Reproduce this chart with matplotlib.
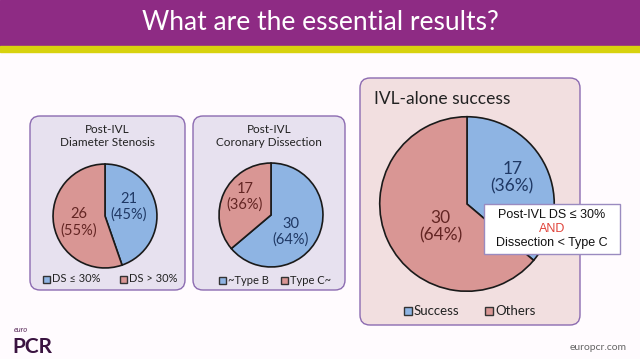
import matplotlib
matplotlib.use("Agg")
import matplotlib.pyplot as plt
from matplotlib.patches import FancyBboxPatch, Rectangle

# ---------------- data ----------------
title = "What are the essential results?"

p1_title = "Post-IVL\nDiameter Stenosis"
p1_labels = ["DS \u2264 30%", "DS > 30%"]
p1_counts = [21, 26]
p1_pcts = [45, 55]

p2_title = "Post-IVL\nCoronary Dissection"
p2_labels = ["~Type B", "Type C~"]
p2_counts = [30, 17]
p2_pcts = [64, 36]

p3_title = "IVL-alone success"
p3_labels = ["Success", "Others"]
p3_counts = [17, 30]
p3_pcts = [36, 64]

note_lines = ["Post-IVL DS \u2264 30%", "AND", "Dissection < Type C"]

# ---------------- style ----------------
W, H = 640, 359
BLUE = "#8EB4E3"
RED = "#D99694"
BLUE_TXT = "#1F3864"
RED_TXT = "#632523"
PURPLE = "#8E2B84"
FONT = ["Lato", "DejaVu Sans"]
plt.rcParams["font.family"] = FONT

fig = plt.figure(figsize=(W / 100, H / 100), dpi=100)
fig.patch.set_facecolor("#FFFBFE")
bg = fig.add_axes([0, 0, 1, 1])
bg.set_xlim(0, W)
bg.set_ylim(H, 0)
bg.axis("off")

# header
bg.add_patch(Rectangle((0, 0), W, 46, color=PURPLE, zorder=1))
bg.add_patch(Rectangle((0, 46), W, 6, color="#D8D20E", zorder=1))
bg.text(320, 23, title, color="white", fontsize=19, ha="center", va="center", zorder=2)


def panel(x0, y0, x1, y1, face):
    bg.add_patch(FancyBboxPatch((x0 + 10, y0 + 10), x1 - x0 - 20, y1 - y0 - 20,
                                boxstyle="round,pad=10", facecolor=face,
                                edgecolor="#8C6BB1", linewidth=1.0, zorder=1))


def pie_at(cx, cy, r, values, counts, pcts, label_pos, label_colors, fs):
    ax = fig.add_axes([(cx - r) / W, 1 - (cy + r) / H, 2 * r / W, 2 * r / H])
    ax.pie(values, colors=[BLUE, RED], startangle=90, counterclock=False,
           wedgeprops=dict(edgecolor="#1a1a1a", linewidth=1.2))
    ax.set_xlim(-1.02, 1.02)
    ax.set_ylim(-1.02, 1.02)
    ax.set_aspect("equal")
    for (lx, ly), c, p, col in zip(label_pos, counts, pcts, label_colors):
        ax.text(lx, ly, f"{c}\n({p}%)", ha="center", va="center", color=col,
                fontsize=fs, linespacing=1.15)
    return ax


def legend(items, y, size, fs):
    for (x, lab, col) in items:
        bg.add_patch(Rectangle((x, y - size / 2), size, size, facecolor=col,
                               edgecolor="#333333", linewidth=1.0, zorder=3))
        bg.text(x + size + 2, y, lab, ha="left", va="center", fontsize=fs, color="#222222", zorder=3)


# panel 1
panel(30, 116, 185, 290, "#E7E1EF")
bg.text(107, 136, p1_title, ha="center", va="center", fontsize=8.5, linespacing=1.2, color="#222222")
pie_at(105, 216, 53, p1_counts, p1_counts, p1_pcts, [(0.45, 0.18), (-0.5, -0.12)],
       [BLUE_TXT, RED_TXT], 10.5)
legend([(43, p1_labels[0], BLUE), (120, p1_labels[1], RED)], 279, 7, 8)

# panel 2
panel(193, 116, 345, 290, "#E7E1EF")
bg.text(269, 136, p2_title, ha="center", va="center", fontsize=8.5, linespacing=1.2, color="#222222")
pie_at(271, 215, 53, p2_counts, p2_counts, p2_pcts, [(0.38, -0.32), (-0.5, 0.35)],
       [BLUE_TXT, RED_TXT], 10.5)
legend([(219, p2_labels[0], BLUE), (281, p2_labels[1], RED)], 280, 7, 8)

# panel 3
panel(360, 78, 580, 325, "#F2DFE0")
bg.text(442, 99, p3_title, ha="center", va="center", fontsize=12.5, color="#222222")
pie_at(467, 204, 89, p3_counts, p3_counts, p3_pcts, [(0.52, 0.3), (-0.3, -0.26)],
       [BLUE_TXT, RED_TXT], 12.5)
legend([(404, p3_labels[0], BLUE), (485, p3_labels[1], RED)], 311, 8, 9.5)

# note box on an overlay axes above the pies
ov = fig.add_axes([0, 0, 1, 1])
ov.set_xlim(0, W)
ov.set_ylim(H, 0)
ov.axis("off")
ov.patch.set_alpha(0)
ov.add_patch(Rectangle((484, 204), 136, 50, facecolor="white", edgecolor="#9A8BC0",
                       linewidth=1.0, zorder=5))
for i, (line, col) in enumerate(zip(note_lines, ["#111111", "#E0433A", "#111111"])):
    ov.text(552, 215 + i * 14, line, ha="center", va="center", fontsize=9, color=col,
            family=["Liberation Sans", "DejaVu Sans"], zorder=6)

# footer
bg.text(14, 330, "euro", fontsize=5.5, style="italic", color="#5a2a5a", ha="left", va="center")
bg.text(12, 347, "PCR", fontsize=15, fontweight="bold", color="#3a1340", ha="left", va="center")
bg.text(627, 347, "europcr.com", fontsize=7.5, color="#666666", ha="right", va="center")

fig.savefig("out.png", dpi=100, facecolor=fig.get_facecolor())
